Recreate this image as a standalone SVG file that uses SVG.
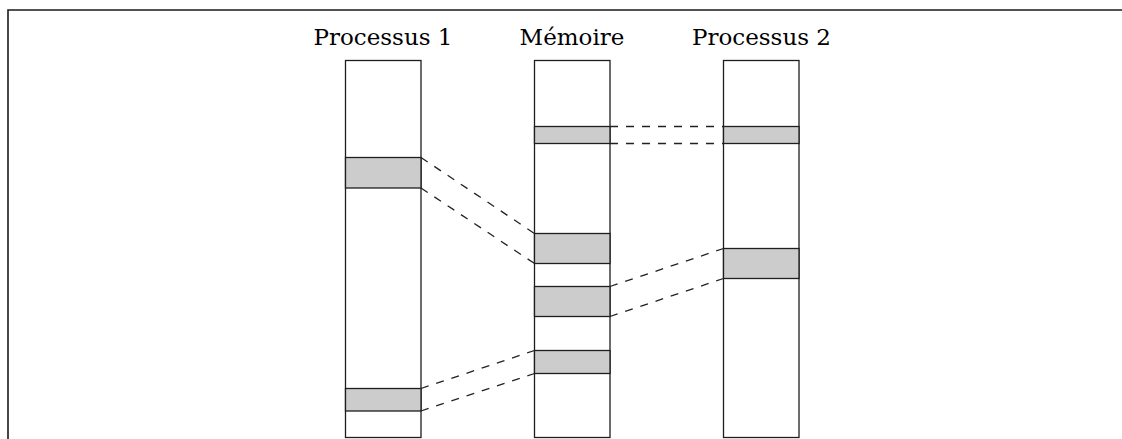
<svg xmlns="http://www.w3.org/2000/svg" width="1122" height="439" viewBox="0 0 1122 439">
<style>
.box{fill:#fff;stroke:#1e1e1e;stroke-width:1.3}
.band{fill:#cccccc;stroke:#1e1e1e;stroke-width:1.3}
.lbl{font-family:"DejaVu Serif","Liberation Serif",serif;font-size:23px;fill:#000;text-anchor:middle}
.dash{stroke:#222;stroke-width:1.3;stroke-dasharray:8 8;fill:none}
.frame{stroke:#1a1a1a;stroke-width:1.6;fill:none}
</style>
<rect width="1122" height="439" fill="#fff"/>
<path class="frame" d="M8 439 V10 H1122"/>
<g id="proc1">
<text class="lbl" x="383" y="45">Processus 1</text>
<rect class="box" x="345.5" y="60.5" width="75.5" height="377"/>
<rect class="band" x="345.5" y="157.5" width="75.5" height="30.5"/>
<rect class="band" x="345.5" y="388.5" width="75.5" height="22.5"/>
</g>
<g id="memoire">
<text class="lbl" x="572" y="45">Mémoire</text>
<rect class="box" x="534.5" y="60.5" width="75.5" height="377"/>
<rect class="band" x="534.5" y="126.5" width="75.5" height="17"/>
<rect class="band" x="534.5" y="233.5" width="75.5" height="30"/>
<rect class="band" x="534.5" y="286.5" width="75.5" height="30"/>
<rect class="band" x="534.5" y="350.5" width="75.5" height="23"/>
</g>
<g id="proc2">
<text class="lbl" x="761.5" y="45">Processus 2</text>
<rect class="box" x="723.5" y="60.5" width="75.5" height="377"/>
<rect class="band" x="723.5" y="126.5" width="75.5" height="17"/>
<rect class="band" x="723.5" y="248.5" width="75.5" height="30"/>
</g>
<g id="connectors">
<line class="dash" x1="421" y1="157.5" x2="534.5" y2="233.5"/>
<line class="dash" x1="421" y1="188" x2="534.5" y2="263.5"/>
<line class="dash" x1="421" y1="388.5" x2="534.5" y2="350.5"/>
<line class="dash" x1="421" y1="411" x2="534.5" y2="373.5"/>
<line class="dash" x1="610" y1="126.5" x2="723.5" y2="126.5"/>
<line class="dash" x1="610" y1="143.5" x2="723.5" y2="143.5"/>
<line class="dash" x1="610" y1="286.5" x2="723.5" y2="248.5"/>
<line class="dash" x1="610" y1="316.5" x2="723.5" y2="278.5"/>
</g>
</svg>
